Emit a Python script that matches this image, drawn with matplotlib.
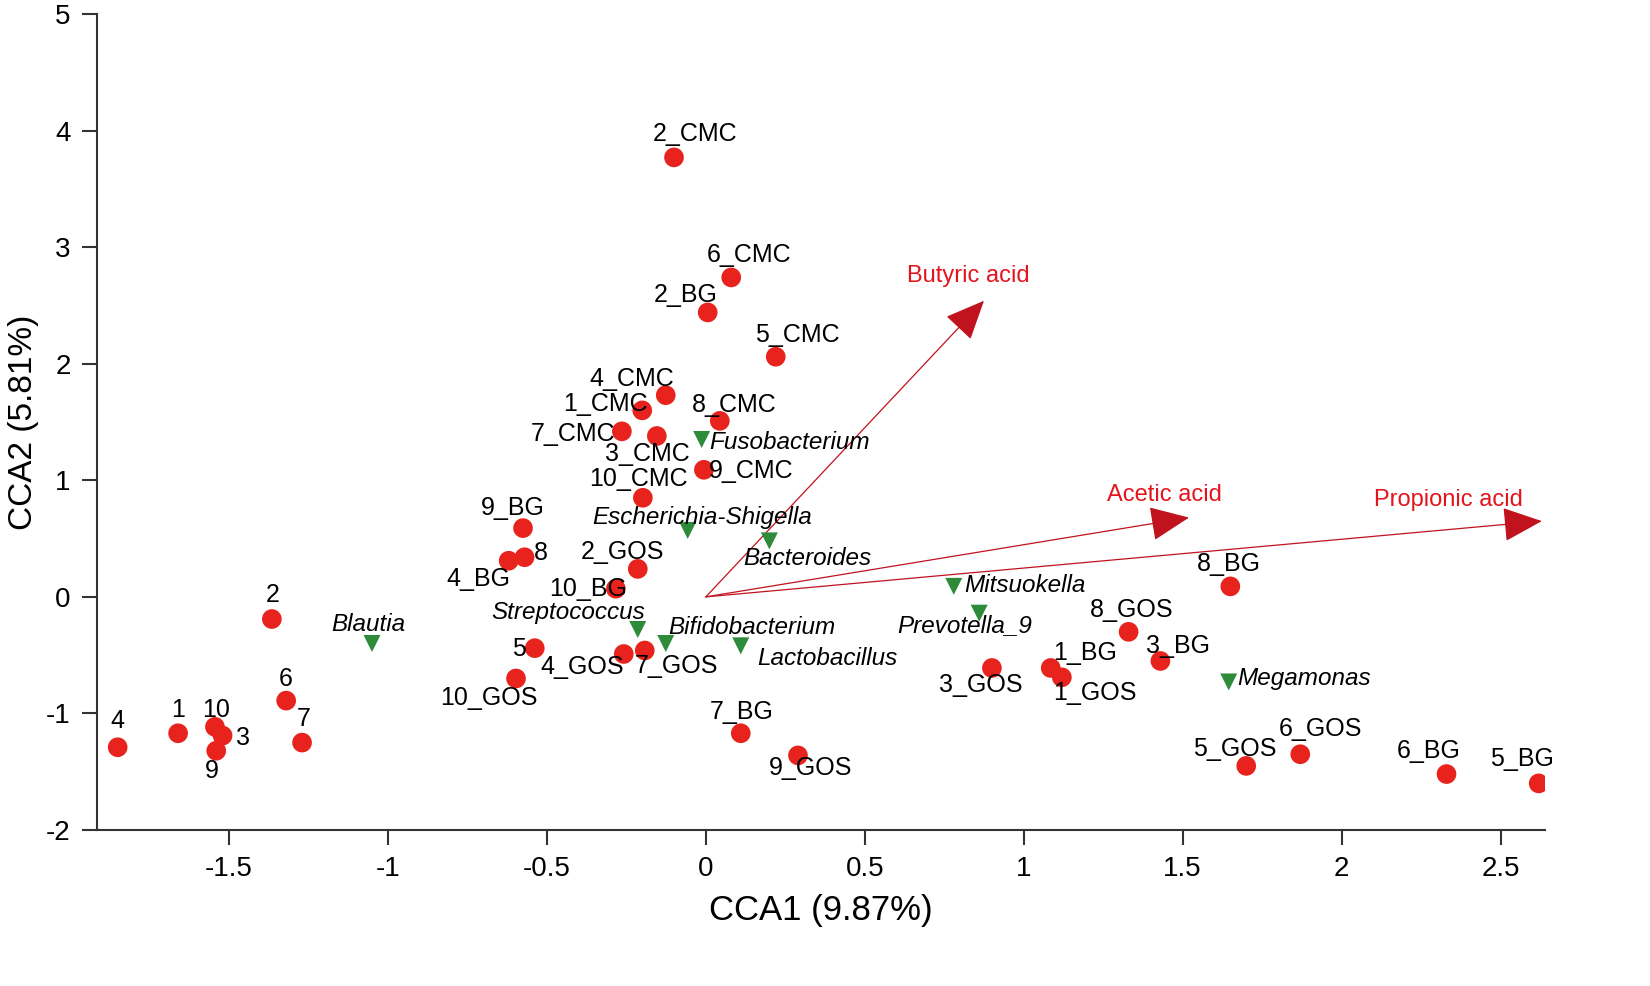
import matplotlib
matplotlib.use("Agg")
import matplotlib.pyplot as plt

plt.rcParams['font.family'] = ['Liberation Sans', 'DejaVu Sans']

# samples (red circles)
sample_names = ['2_CMC', '6_CMC', '2_BG', '5_CMC', '4_CMC', '1_CMC', '8_CMC', '7_CMC',
                '3_CMC', '9_CMC', '10_CMC', '9_BG', '8', '4_BG', '2_GOS', '10_BG',
                '2', '5', '4_GOS', '7_GOS', '10_GOS', '6', '7', '4', '1', '10', '3', '9',
                '7_BG', '9_GOS', '3_GOS', '1_BG', '1_GOS', '8_GOS', '3_BG', '8_BG',
                '5_GOS', '6_GOS', '6_BG', '5_BG']
sample_x = [-0.10, 0.08, 0.006, 0.22, -0.126, -0.20, 0.044, -0.264,
            -0.154, -0.006, -0.198, -0.575, -0.57, -0.62, -0.214, -0.283,
            -1.365, -0.538, -0.258, -0.192, -0.597, -1.32, -1.27, -1.85, -1.66, -1.544, -1.52, -1.54,
            0.11, 0.29, 0.90, 1.085, 1.12, 1.33, 1.43, 1.65,
            1.70, 1.87, 2.33, 2.62]
sample_y = [3.77, 2.74, 2.44, 2.06, 1.73, 1.60, 1.51, 1.42,
            1.38, 1.09, 0.85, 0.59, 0.34, 0.31, 0.24, 0.07,
            -0.19, -0.44, -0.49, -0.46, -0.70, -0.89, -1.25, -1.29, -1.17, -1.115, -1.19, -1.32,
            -1.17, -1.36, -0.61, -0.61, -0.69, -0.30, -0.55, 0.09,
            -1.45, -1.35, -1.52, -1.60]

# genera (green triangles)
genus_names = ['Fusobacterium', 'Escherichia-Shigella', 'Bacteroides', 'Mitsuokella',
               'Prevotella_9', 'Blautia', 'Streptococcus', 'Bifidobacterium',
               'Lactobacillus', 'Megamonas']
genus_x = [-0.013, -0.057, 0.20, 0.78, 0.86, -1.05, -0.214, -0.126, 0.11, 1.645]
genus_y = [1.35, 0.57, 0.48, 0.09, -0.14, -0.40, -0.28, -0.40, -0.42, -0.73]

# environmental vectors
acid_names = ['Butyric acid', 'Acetic acid', 'Propionic acid']
acid_x = [0.875, 1.52, 2.63]
acid_y = [2.54, 0.68, 0.65]

# label offsets in pixels (dx, dy up)
sample_offsets = {
    '2_CMC': (21, 23), '6_CMC': (18, 22), '2_BG': (-22, 17), '5_CMC': (22, 22),
    '4_CMC': (-34, 16), '1_CMC': (-37, 6), '8_CMC': (14, 16), '7_CMC': (-49, -3),
    '3_CMC': (-9, -18), '9_CMC': (47, -1), '10_CMC': (-4, 19), '9_BG': (-10, 20),
    '8': (16, 4), '4_BG': (-30, -18), '2_GOS': (-15, 17), '10_BG': (-28, 0),
    '2': (1, 24), '5': (-16, -1), '4_GOS': (-42, -13), '7_GOS': (32, -16),
    '10_GOS': (-27, -20), '6': (0, 22), '7': (2, 24), '4': (0, 26), '1': (0, 23),
    '10': (1, 17), '3': (20, -2), '9': (-4, -20), '7_BG': (1, 21), '9_GOS': (13, -13),
    '3_GOS': (-11, -17), '1_BG': (34, 15), '1_GOS': (33, -16), '8_GOS': (3, 22),
    '3_BG': (18, 15), '8_BG': (-1, 22), '5_GOS': (-11, 17), '6_GOS': (20, 25),
    '6_BG': (-18, 23), '5_BG': (-17, 24),
}
genus_offsets = {
    'Fusobacterium': (8, -3, 'left'), 'Escherichia-Shigella': (14, 13, 'center'),
    'Bacteroides': (38, -18, 'center'), 'Mitsuokella': (10, 1, 'left'),
    'Prevotella_9': (-15, -12, 'center'), 'Blautia': (-4, 19, 'center'),
    'Streptococcus': (-70, 17, 'center'), 'Bifidobacterium': (86, 16, 'center'),
    'Lactobacillus': (87, -13, 'center'), 'Megamonas': (9, 3, 'left'),
}
acid_offsets = {'Butyric acid': (-16, 25), 'Acetic acid': (-25, 23), 'Propionic acid': (-93, 21)}

fig = plt.figure(figsize=(16.5, 9.86), dpi=100)
ax = fig.add_axes([0.0588, 0.1582, 0.8776, 0.8276])

# arrows
for name, x, y in zip(acid_names, acid_x, acid_y):
    ax.annotate('', xy=(x, y), xytext=(0, 0),
                arrowprops=dict(arrowstyle='-|>,head_length=1.25,head_width=0.55',
                                mutation_scale=20, color='#c0131e', lw=0.9,
                                shrinkA=0, shrinkB=0))
    dx, dy = acid_offsets[name]
    ax.annotate(name, (x, y), xytext=(dx, dy), textcoords='offset pixels',
                ha='center', va='center', fontsize=17, color='#e3141c')

ax.scatter(sample_x, sample_y, s=200, c='#e8231d', edgecolors='none', zorder=3)
ax.scatter(genus_x, genus_y, s=150, c='#2e8b3a', marker='v', edgecolors='none', zorder=3)

for name, x, y in zip(sample_names, sample_x, sample_y):
    dx, dy = sample_offsets[name]
    ax.annotate(name, (x, y), xytext=(dx, dy), textcoords='offset pixels',
                ha='center', va='center', fontsize=18, color='black', zorder=4)

for name, x, y in zip(genus_names, genus_x, genus_y):
    dx, dy, ha = genus_offsets[name]
    ax.annotate(name, (x, y), xytext=(dx, dy), textcoords='offset pixels',
                ha=ha, va='center', fontsize=17.5, style='italic', color='black', zorder=4)

ax.set_xlim(-1.915, 2.64)
ax.set_ylim(-2, 5)
ax.set_xticks([-1.5, -1, -0.5, 0, 0.5, 1, 1.5, 2, 2.5])
ax.set_xticklabels(['-1.5', '-1', '-0.5', '0', '0.5', '1', '1.5', '2', '2.5'])
ax.set_yticks([-2, -1, 0, 1, 2, 3, 4, 5])
ax.set_yticklabels(['-2', '-1', '0', '1', '2', '3', '4', '5'])

for side in ['top', 'right']:
    ax.spines[side].set_visible(False)
for side in ['left', 'bottom']:
    ax.spines[side].set_color('#333333')
    ax.spines[side].set_linewidth(1.5)
ax.tick_params(direction='out', length=11, width=1.5, color='#333333',
               labelsize=20, pad=8)

ax.set_xlabel('CCA1 (9.87%)', fontsize=25, labelpad=8)
ax.set_ylabel('CCA2 (5.81%)', fontsize=24, va='center')
ax.yaxis.set_label_coords(-0.051, 0.5)

fig.savefig('out.png', dpi=100)
